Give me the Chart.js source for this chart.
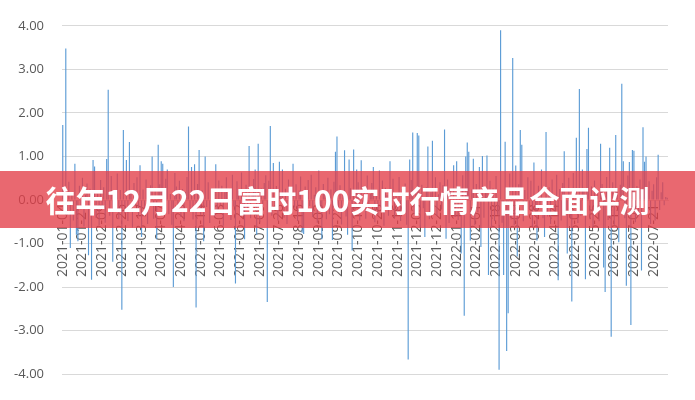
<!DOCTYPE html>
<html>
<head>
<meta charset="utf-8">
<script src="https://cdn.jsdelivr.net/npm/chart.js"></script>
<style>
    body { margin: 0; background: #fff; }
    #wrap { position: relative; width: 695px; height: 400px; }
    #banner {
        position: absolute; left: 0; top: 171px; width: 695px; height: 57px;
        background: rgba(227, 61, 72, 0.78);
        color: #fff; font-family: "Noto Sans CJK SC", sans-serif; font-weight: 700;
        font-size: 30px; line-height: 57px; text-align: center;
    }
</style>
</head>
<body>
<div id="wrap">
    <canvas id="barChart" width="695" height="400"></canvas>
    <div id="banner">往年12月22日富时100实时行情产品全面评测</div>
</div>
<script>
// x-axis labels, one every 13 trading days
var tickLabels = [
    '2021-01-04', '2021-01-21', '2021-02-09', '2021-02-26', '2021-03-17', '2021-04-07',
    '2021-04-26', '2021-05-14', '2021-06-03', '2021-06-22', '2021-07-09', '2021-07-28',
    '2021-08-16', '2021-09-03', '2021-09-22', '2021-10-11', '2021-10-28', '2021-11-16',
    '2021-12-03', '2021-12-22', '2022-01-13', '2022-02-01', '2022-02-18', '2022-03-09',
    '2022-03-28', '2022-04-14', '2022-05-06', '2022-05-25', '2022-06-15', '2022-07-04',
    '2022-07-21'
];
var labelStep = 13;

// daily change (%)
var dailyChange = [
    1.72, 0.21, 3.48, -0.35, 0.42, -1.10, 0.18, -0.47, 0.83, -0.80, -0.95, 0.33, -0.22, 0.51, -0.61, 0.12, 0.38, -1.27, 0.26, -1.83,
    0.92, 0.77, -0.41, 0.15, -0.58, 0.46, -0.19, 0.29, -0.52, 0.94, 2.53, -0.36, 0.55, -1.42, 0.08, -0.27, 0.61, -0.44, 0.23, -2.52,
    1.61, -0.31, 0.92, -0.48, 1.33, 0.17, -0.63, 0.39, -0.14, 0.52, -0.37, 0.80, -0.85, 0.24, -0.29, 0.47, -0.55, 0.11, 0.34, 1.00,
    -0.43, 0.28, -0.90, 1.27, 0.36, 0.89, 0.83, -0.21, 0.49, 0.70, -0.33, 0.14, -0.57, -2.00, 0.62, 0.31, -0.18, 0.44, -0.39, 0.25,
    -0.49, 0.19, 0.53, 1.69, -0.26, 0.76, -0.45, 0.82, -2.47, 0.37, 1.15, -0.34, 0.22, -0.95, 1.00, -0.16, 0.41, -0.53, 0.27, 0.09,
    -0.38, 0.82, -0.24, 0.45, -0.12, 0.33, -0.59, 0.18, 0.52, -0.31, 0.26, -0.46, 0.58, -0.15, -1.92, 0.43, 0.21, -0.37, 0.63, -0.28,
    -0.90, 0.35, -0.19, 1.24, -0.42, 0.16, 0.48, 0.70, -0.80, 1.29, -0.51, 0.27, -0.13, 0.39, 0.57, -2.34, 0.44, 1.70, -0.36, 0.85,
    -0.23, 0.32, -0.47, 0.88, 0.13, 0.70, -0.41, 0.26, -0.55, 0.47, 0.19, -0.32, 0.83, -0.17, 0.36, -0.48, 0.22, 0.54, -0.75, -0.78,
    0.31, -0.27, 0.46, -0.14, 0.58, -0.39, 0.12, 0.29, -0.52, 0.68, -0.21, -0.90, 0.37, 0.15, -0.44, 0.51, -0.33, 0.24, -0.92, 0.42,
    1.11, 1.46, -0.29, 0.34, -0.56, 0.18, 1.14, -0.38, -0.80, 0.93, 0.27, -1.16, 1.16, -0.22, 0.70, 0.41, -0.47, 0.91, -0.18, 0.33,
    -0.43, 0.56, -0.26, 0.14, 0.39, 0.76, -0.51, 0.22, -0.34, 0.68, -0.17, 0.45, -0.59, 0.28, 0.11, -0.36, 0.89, -0.24, 0.49, -0.42,
    0.17, -0.31, 0.53, -0.48, 0.25, -0.14, 0.38, -0.57, -3.66, 0.93, 0.46, 1.55, -0.33, 0.21, 1.54, 1.48, -0.62, 0.35, -0.19, -0.85,
    0.29, 1.23, -0.44, 0.18, 1.36, -0.27, 0.52, -0.36, 0.13, 0.41, -0.22, 0.34, 1.62, -0.89, 0.47, -0.53, 0.26, -0.15, 0.80, -0.39,
    0.89, -0.46, 0.32, -1.23, 0.57, -2.66, 1.00, 1.32, 1.11, -0.93, 0.24, 0.95, -0.58, 0.37, -0.28, 0.76, -1.08, 1.01, -0.41, 0.19,
    1.02, -1.72, 0.44, -0.63, 0.27, -0.48, 0.55, -0.34, -3.90, 3.90, -0.52, -1.72, 1.34, -3.47, -2.60, 0.61, -0.45, 3.26, -0.58, 0.79,
    -1.30, 0.36, 1.61, 1.27, -0.49, 0.23, -0.37, 0.52, -0.21, 0.44, -0.61, 0.86, -0.27, -0.93, 0.33, -0.16, 0.70, -0.42, -0.85, 1.56,
    -0.38, 0.29, -0.55, 0.47, 0.14, -0.33, 0.58, -1.84, 0.25, -0.47, 0.39, 1.12, -0.26, -1.23, 0.51, -0.41, -2.33, 0.62, -0.19, 1.43,
    -0.53, 2.55, -0.36, 0.70, 0.28, -1.82, 1.17, 1.66, -0.44, 0.31, -0.62, 0.45, -0.25, 0.18, -0.49, 1.29, 0.37, -1.55, -2.11, 0.53,
    -0.46, 1.20, -3.14, 0.41, -0.58, 1.49, 0.27, -0.97, 0.35, 2.67, 0.89, -0.42, -1.97, 0.56, 0.87, -2.87, 1.15, 1.13, -0.51, 0.32,
    -0.38, 0.47, -1.62, 1.67, 0.88, 1.00, -0.29, 0.43, -0.55, 0.21, 0.36, -0.47, 0.52, 1.04, -0.23, 0.18, 0.41, -0.12, 0.07, 0.05
];

var ctx = document.getElementById('barChart').getContext('2d');
var barChart = new Chart(ctx, {
    type: 'bar',
    data: {
        labels: dailyChange.map(function (v, i) { return i; }),
        datasets: [{
            data: dailyChange,
            backgroundColor: '#5b9bd5',
            borderWidth: 0,
            barPercentage: 0.75,
            categoryPercentage: 1
        }]
    },
    options: {
        responsive: false,
        animation: false,
        layout: {
            padding: { left: 12, right: 27, top: 13, bottom: 15 }
        },
        scales: {
            x: {
                position: { y: 0 },
                grid: { display: false, drawTicks: false },
                border: { display: true, color: '#d9d9d9', width: 1 },
                ticks: {
                    autoSkip: false,
                    minRotation: 90,
                    maxRotation: 90,
                    padding: 4,
                    color: '#595959',
                    font: { family: 'Open Sans', size: 14 },
                    callback: function (value) {
                        return value % labelStep === 0 ? tickLabels[value / labelStep] : null;
                    }
                },
                // rotated labels should not push the plot area inwards
                afterFit: function (scale) {
                    scale.paddingLeft = 0;
                    scale.paddingRight = 0;
                }
            },
            y: {
                min: -4,
                max: 4,
                grid: { color: '#d9d9d9', lineWidth: 1, drawTicks: false },
                border: { display: false },
                ticks: {
                    stepSize: 1,
                    padding: 18,
                    color: '#595959',
                    font: { family: 'Open Sans', size: 13 },
                    callback: function (value) { return value.toFixed(2); }
                },
                // padding is counted twice by Chart.js, keep the axis narrow
                afterFit: function (scale) {
                    scale.width = 50;
                }
            }
        },
        plugins: {
            legend: { display: false },
            tooltip: { enabled: false }
        }
    }
});
</script>
</body>
</html>
